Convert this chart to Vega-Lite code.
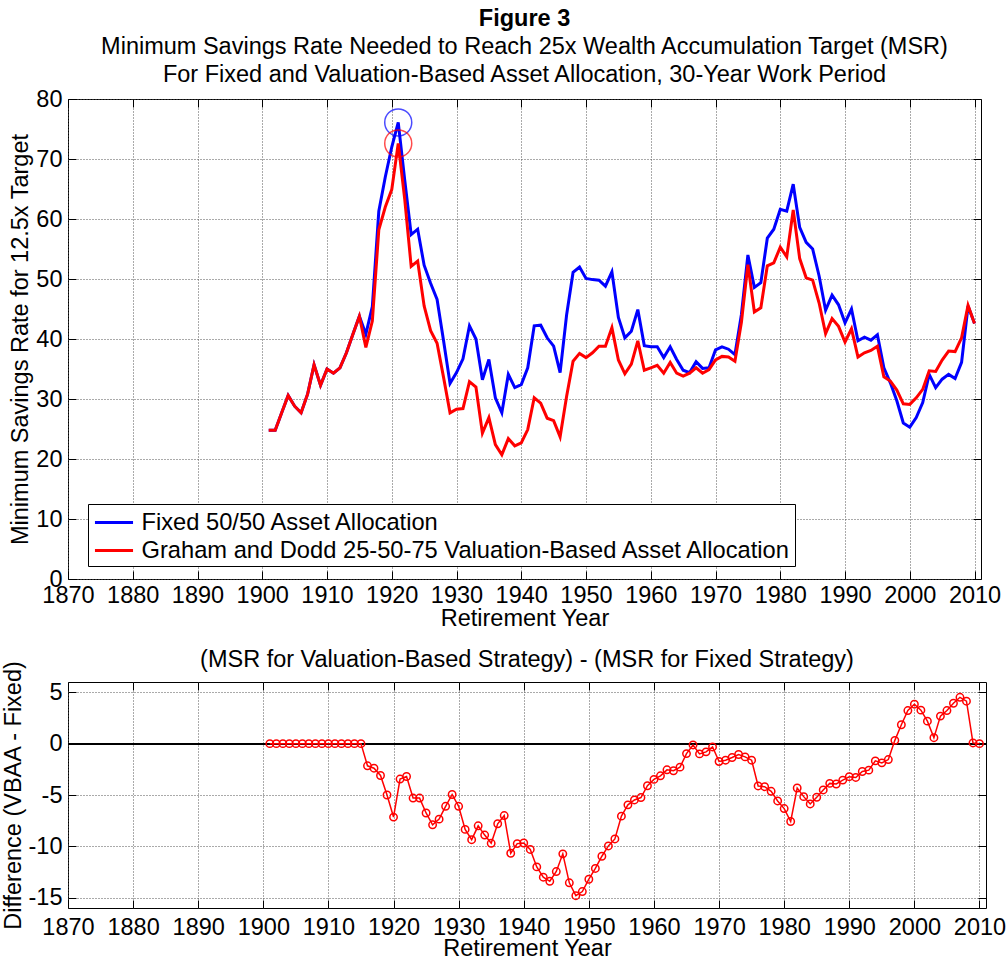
{
  "$schema": "https://vega.github.io/schema/vega-lite/v6.json",
  "background": "white",
  "padding": {"left": 0, "top": 6, "right": 10, "bottom": 0},
  "spacing": 16,
  "config": {
    "font": "Liberation Sans",
    "view": {"stroke": "#000", "strokeWidth": 1},
    "axis": {
      "labelFont": "Liberation Sans", "titleFont": "Liberation Sans",
      "labelFontSize": 23.5, "titleFontSize": 23.5, "titleFontWeight": "normal",
      "labelColor": "#000", "titleColor": "#000",
      "domain": false, "tickColor": "#000", "tickSize": -8, "tickWidth": 1,
      "gridColor": "#555", "gridDash": [1, 2], "gridOpacity": 1, "gridWidth": 1,
      "labelOverlap": false, "labelFlush": false
    }
  },
  "datasets": {
    "msr": [
      {"year":1901,"series":"fixed","msr":24.8},{"year":1902,"series":"fixed","msr":24.8},{"year":1903,"series":"fixed","msr":27.7},{"year":1904,"series":"fixed","msr":30.6},{"year":1905,"series":"fixed","msr":28.8},{"year":1906,"series":"fixed","msr":27.7},{"year":1907,"series":"fixed","msr":30.8},{"year":1908,"series":"fixed","msr":35.7},{"year":1909,"series":"fixed","msr":32.3},{"year":1910,"series":"fixed","msr":35.0},
      {"year":1911,"series":"fixed","msr":34.3},{"year":1912,"series":"fixed","msr":35.2},{"year":1913,"series":"fixed","msr":37.7},{"year":1914,"series":"fixed","msr":40.8},{"year":1915,"series":"fixed","msr":43.8},{"year":1916,"series":"fixed","msr":40.8},{"year":1917,"series":"fixed","msr":45.4},{"year":1918,"series":"fixed","msr":61.3},{"year":1919,"series":"fixed","msr":67.0},{"year":1920,"series":"fixed","msr":72.0},
      {"year":1921,"series":"fixed","msr":76.1},{"year":1922,"series":"fixed","msr":66.5},{"year":1923,"series":"fixed","msr":57.4},{"year":1924,"series":"fixed","msr":58.3},{"year":1925,"series":"fixed","msr":52.3},{"year":1926,"series":"fixed","msr":49.3},{"year":1927,"series":"fixed","msr":46.6},{"year":1928,"series":"fixed","msr":39.7},{"year":1929,"series":"fixed","msr":32.6},{"year":1930,"series":"fixed","msr":34.4},
      {"year":1931,"series":"fixed","msr":36.7},{"year":1932,"series":"fixed","msr":42.2},{"year":1933,"series":"fixed","msr":40.0},{"year":1934,"series":"fixed","msr":33.2},{"year":1935,"series":"fixed","msr":36.6},{"year":1936,"series":"fixed","msr":30.2},{"year":1937,"series":"fixed","msr":27.7},{"year":1938,"series":"fixed","msr":34.1},{"year":1939,"series":"fixed","msr":31.9},{"year":1940,"series":"fixed","msr":32.4},
      {"year":1941,"series":"fixed","msr":35.2},{"year":1942,"series":"fixed","msr":42.2},{"year":1943,"series":"fixed","msr":42.3},{"year":1944,"series":"fixed","msr":40.2},{"year":1945,"series":"fixed","msr":38.8},{"year":1946,"series":"fixed","msr":34.4},{"year":1947,"series":"fixed","msr":44.0},{"year":1948,"series":"fixed","msr":51.1},{"year":1949,"series":"fixed","msr":52.0},{"year":1950,"series":"fixed","msr":50.1},
      {"year":1951,"series":"fixed","msr":49.9},{"year":1952,"series":"fixed","msr":49.8},{"year":1953,"series":"fixed","msr":48.8},{"year":1954,"series":"fixed","msr":51.2},{"year":1955,"series":"fixed","msr":43.6},{"year":1956,"series":"fixed","msr":40.2},{"year":1957,"series":"fixed","msr":41.3},{"year":1958,"series":"fixed","msr":44.9},{"year":1959,"series":"fixed","msr":38.9},{"year":1960,"series":"fixed","msr":38.7},
      {"year":1961,"series":"fixed","msr":38.7},{"year":1962,"series":"fixed","msr":36.9},{"year":1963,"series":"fixed","msr":38.7},{"year":1964,"series":"fixed","msr":36.6},{"year":1965,"series":"fixed","msr":34.8},{"year":1966,"series":"fixed","msr":34.4},{"year":1967,"series":"fixed","msr":36.2},{"year":1968,"series":"fixed","msr":35.1},{"year":1969,"series":"fixed","msr":35.2},{"year":1970,"series":"fixed","msr":38.2},
      {"year":1971,"series":"fixed","msr":38.7},{"year":1972,"series":"fixed","msr":38.3},{"year":1973,"series":"fixed","msr":37.4},{"year":1974,"series":"fixed","msr":44.1},{"year":1975,"series":"fixed","msr":54.0},{"year":1976,"series":"fixed","msr":48.6},{"year":1977,"series":"fixed","msr":49.4},{"year":1978,"series":"fixed","msr":56.8},{"year":1979,"series":"fixed","msr":58.3},{"year":1980,"series":"fixed","msr":61.6},
      {"year":1981,"series":"fixed","msr":61.3},{"year":1982,"series":"fixed","msr":65.8},{"year":1983,"series":"fixed","msr":58.6},{"year":1984,"series":"fixed","msr":56.1},{"year":1985,"series":"fixed","msr":55.0},{"year":1986,"series":"fixed","msr":50.5},{"year":1987,"series":"fixed","msr":44.8},{"year":1988,"series":"fixed","msr":47.3},{"year":1989,"series":"fixed","msr":45.7},{"year":1990,"series":"fixed","msr":42.7},
      {"year":1991,"series":"fixed","msr":45.0},{"year":1992,"series":"fixed","msr":39.7},{"year":1993,"series":"fixed","msr":40.3},{"year":1994,"series":"fixed","msr":39.8},{"year":1995,"series":"fixed","msr":40.7},{"year":1996,"series":"fixed","msr":35.2},{"year":1997,"series":"fixed","msr":32.7},{"year":1998,"series":"fixed","msr":29.7},{"year":1999,"series":"fixed","msr":26.0},{"year":2000,"series":"fixed","msr":25.3},
      {"year":2001,"series":"fixed","msr":26.9},{"year":2002,"series":"fixed","msr":29.4},{"year":2003,"series":"fixed","msr":34.1},{"year":2004,"series":"fixed","msr":31.9},{"year":2005,"series":"fixed","msr":33.3},{"year":2006,"series":"fixed","msr":34.1},{"year":2007,"series":"fixed","msr":33.4},{"year":2008,"series":"fixed","msr":36.1},{"year":2009,"series":"fixed","msr":45.5},{"year":2010,"series":"fixed","msr":42.6},
      {"year":1901,"series":"vbaa","msr":24.8},{"year":1902,"series":"vbaa","msr":24.8},{"year":1903,"series":"vbaa","msr":27.7},{"year":1904,"series":"vbaa","msr":30.6},{"year":1905,"series":"vbaa","msr":28.8},{"year":1906,"series":"vbaa","msr":27.7},{"year":1907,"series":"vbaa","msr":30.8},{"year":1908,"series":"vbaa","msr":35.7},{"year":1909,"series":"vbaa","msr":32.3},{"year":1910,"series":"vbaa","msr":35.0},
      {"year":1911,"series":"vbaa","msr":34.3},{"year":1912,"series":"vbaa","msr":35.2},{"year":1913,"series":"vbaa","msr":37.7},{"year":1914,"series":"vbaa","msr":40.8},{"year":1915,"series":"vbaa","msr":43.8},{"year":1916,"series":"vbaa","msr":38.6},{"year":1917,"series":"vbaa","msr":43.0},{"year":1918,"series":"vbaa","msr":58.2},{"year":1919,"series":"vbaa","msr":62.0},{"year":1920,"series":"vbaa","msr":64.9},
      {"year":1921,"series":"vbaa","msr":72.6},{"year":1922,"series":"vbaa","msr":63.3},{"year":1923,"series":"vbaa","msr":52.1},{"year":1924,"series":"vbaa","msr":53.0},{"year":1925,"series":"vbaa","msr":45.5},{"year":1926,"series":"vbaa","msr":41.4},{"year":1927,"series":"vbaa","msr":39.3},{"year":1928,"series":"vbaa","msr":33.6},{"year":1929,"series":"vbaa","msr":27.7},{"year":1930,"series":"vbaa","msr":28.3},
      {"year":1931,"series":"vbaa","msr":28.4},{"year":1932,"series":"vbaa","msr":32.9},{"year":1933,"series":"vbaa","msr":32.0},{"year":1934,"series":"vbaa","msr":24.3},{"year":1935,"series":"vbaa","msr":26.9},{"year":1936,"series":"vbaa","msr":22.4},{"year":1937,"series":"vbaa","msr":20.7},{"year":1938,"series":"vbaa","msr":23.4},{"year":1939,"series":"vbaa","msr":22.2},{"year":1940,"series":"vbaa","msr":22.7},
      {"year":1941,"series":"vbaa","msr":24.9},{"year":1942,"series":"vbaa","msr":30.2},{"year":1943,"series":"vbaa","msr":29.3},{"year":1944,"series":"vbaa","msr":26.8},{"year":1945,"series":"vbaa","msr":26.4},{"year":1946,"series":"vbaa","msr":23.7},{"year":1947,"series":"vbaa","msr":30.4},{"year":1948,"series":"vbaa","msr":36.3},{"year":1949,"series":"vbaa","msr":37.6},{"year":1950,"series":"vbaa","msr":36.9},
      {"year":1951,"series":"vbaa","msr":37.7},{"year":1952,"series":"vbaa","msr":38.8},{"year":1953,"series":"vbaa","msr":38.8},{"year":1954,"series":"vbaa","msr":41.9},{"year":1955,"series":"vbaa","msr":36.5},{"year":1956,"series":"vbaa","msr":34.2},{"year":1957,"series":"vbaa","msr":35.8},{"year":1958,"series":"vbaa","msr":39.7},{"year":1959,"series":"vbaa","msr":34.8},{"year":1960,"series":"vbaa","msr":35.2},
      {"year":1961,"series":"vbaa","msr":35.6},{"year":1962,"series":"vbaa","msr":34.3},{"year":1963,"series":"vbaa","msr":36.1},{"year":1964,"series":"vbaa","msr":34.3},{"year":1965,"series":"vbaa","msr":33.8},{"year":1966,"series":"vbaa","msr":34.3},{"year":1967,"series":"vbaa","msr":35.2},{"year":1968,"series":"vbaa","msr":34.3},{"year":1969,"series":"vbaa","msr":34.9},{"year":1970,"series":"vbaa","msr":36.5},
      {"year":1971,"series":"vbaa","msr":37.1},{"year":1972,"series":"vbaa","msr":37.0},{"year":1973,"series":"vbaa","msr":36.3},{"year":1974,"series":"vbaa","msr":42.8},{"year":1975,"series":"vbaa","msr":52.4},{"year":1976,"series":"vbaa","msr":44.5},{"year":1977,"series":"vbaa","msr":45.2},{"year":1978,"series":"vbaa","msr":52.2},{"year":1979,"series":"vbaa","msr":52.7},{"year":1980,"series":"vbaa","msr":55.3},
      {"year":1981,"series":"vbaa","msr":53.7},{"year":1982,"series":"vbaa","msr":61.5},{"year":1983,"series":"vbaa","msr":53.4},{"year":1984,"series":"vbaa","msr":50.2},{"year":1985,"series":"vbaa","msr":49.8},{"year":1986,"series":"vbaa","msr":46.0},{"year":1987,"series":"vbaa","msr":40.9},{"year":1988,"series":"vbaa","msr":43.4},{"year":1989,"series":"vbaa","msr":42.1},{"year":1990,"series":"vbaa","msr":39.5},
      {"year":1991,"series":"vbaa","msr":41.7},{"year":1992,"series":"vbaa","msr":37.0},{"year":1993,"series":"vbaa","msr":37.7},{"year":1994,"series":"vbaa","msr":38.1},{"year":1995,"series":"vbaa","msr":38.8},{"year":1996,"series":"vbaa","msr":33.7},{"year":1997,"series":"vbaa","msr":33.0},{"year":1998,"series":"vbaa","msr":31.5},{"year":1999,"series":"vbaa","msr":29.2},{"year":2000,"series":"vbaa","msr":29.1},
      {"year":2001,"series":"vbaa","msr":30.2},{"year":2002,"series":"vbaa","msr":31.6},{"year":2003,"series":"vbaa","msr":34.7},{"year":2004,"series":"vbaa","msr":34.6},{"year":2005,"series":"vbaa","msr":36.5},{"year":2006,"series":"vbaa","msr":38.0},{"year":2007,"series":"vbaa","msr":37.9},{"year":2008,"series":"vbaa","msr":40.2},{"year":2009,"series":"vbaa","msr":45.6},{"year":2010,"series":"vbaa","msr":42.6}
    ],
    "diff": [
      {"year":1901,"diff":0},{"year":1902,"diff":0},{"year":1903,"diff":0},{"year":1904,"diff":0},{"year":1905,"diff":0},{"year":1906,"diff":0},{"year":1907,"diff":0},{"year":1908,"diff":0},{"year":1909,"diff":0},{"year":1910,"diff":0},
      {"year":1911,"diff":0},{"year":1912,"diff":0},{"year":1913,"diff":0},{"year":1914,"diff":0},{"year":1915,"diff":0},{"year":1916,"diff":-2.16},{"year":1917,"diff":-2.39},{"year":1918,"diff":-3.1},{"year":1919,"diff":-5.0},{"year":1920,"diff":-7.15},
      {"year":1921,"diff":-3.45},{"year":1922,"diff":-3.2},{"year":1923,"diff":-5.3},{"year":1924,"diff":-5.3},{"year":1925,"diff":-6.75},{"year":1926,"diff":-7.9},{"year":1927,"diff":-7.35},{"year":1928,"diff":-6.1},{"year":1929,"diff":-4.95},{"year":1930,"diff":-6.1},
      {"year":1931,"diff":-8.35},{"year":1932,"diff":-9.35},{"year":1933,"diff":-8.0},{"year":1934,"diff":-8.9},{"year":1935,"diff":-9.7},{"year":1936,"diff":-7.8},{"year":1937,"diff":-7.0},{"year":1938,"diff":-10.67},{"year":1939,"diff":-9.73},{"year":1940,"diff":-9.67},
      {"year":1941,"diff":-10.3},{"year":1942,"diff":-12.0},{"year":1943,"diff":-13.0},{"year":1944,"diff":-13.4},{"year":1945,"diff":-12.45},{"year":1946,"diff":-10.73},{"year":1947,"diff":-13.55},{"year":1948,"diff":-14.8},{"year":1949,"diff":-14.4},{"year":1950,"diff":-13.2},
      {"year":1951,"diff":-12.15},{"year":1952,"diff":-10.96},{"year":1953,"diff":-9.96},{"year":1954,"diff":-9.28},{"year":1955,"diff":-7.06},{"year":1956,"diff":-5.96},{"year":1957,"diff":-5.48},{"year":1958,"diff":-5.25},{"year":1959,"diff":-4.1},{"year":1960,"diff":-3.48},
      {"year":1961,"diff":-3.13},{"year":1962,"diff":-2.55},{"year":1963,"diff":-2.64},{"year":1964,"diff":-2.29},{"year":1965,"diff":-0.97},{"year":1966,"diff":-0.13},{"year":1967,"diff":-1.0},{"year":1968,"diff":-0.8},{"year":1969,"diff":-0.32},{"year":1970,"diff":-1.74},
      {"year":1971,"diff":-1.61},{"year":1972,"diff":-1.35},{"year":1973,"diff":-1.06},{"year":1974,"diff":-1.29},{"year":1975,"diff":-1.61},{"year":1976,"diff":-4.12},{"year":1977,"diff":-4.19},{"year":1978,"diff":-4.64},{"year":1979,"diff":-5.58},{"year":1980,"diff":-6.32},
      {"year":1981,"diff":-7.58},{"year":1982,"diff":-4.32},{"year":1983,"diff":-5.16},{"year":1984,"diff":-5.87},{"year":1985,"diff":-5.22},{"year":1986,"diff":-4.51},{"year":1987,"diff":-3.87},{"year":1988,"diff":-3.93},{"year":1989,"diff":-3.55},{"year":1990,"diff":-3.22},
      {"year":1991,"diff":-3.29},{"year":1992,"diff":-2.71},{"year":1993,"diff":-2.58},{"year":1994,"diff":-1.68},{"year":1995,"diff":-1.87},{"year":1996,"diff":-1.55},{"year":1997,"diff":0.32},{"year":1998,"diff":1.84},{"year":1999,"diff":3.22},{"year":2000,"diff":3.84},
      {"year":2001,"diff":3.26},{"year":2002,"diff":2.19},{"year":2003,"diff":0.58},{"year":2004,"diff":2.68},{"year":2005,"diff":3.22},{"year":2006,"diff":3.93},{"year":2007,"diff":4.51},{"year":2008,"diff":4.13},{"year":2009,"diff":0.07},{"year":2010,"diff":0.0}
    ]
  },
  "vconcat": [
    {
      "width": 913,
      "height": 480,
      "title": {
        "text": "Figure 3",
        "subtitle": ["Minimum Savings Rate Needed to Reach 25x Wealth Accumulation Target (MSR)", "For Fixed and Valuation-Based Asset Allocation, 30-Year Work Period"],
        "font": "Liberation Sans", "subtitleFont": "Liberation Sans",
        "fontSize": 23.5, "fontWeight": "bold", "color": "#000",
        "subtitleFontSize": 23.5, "subtitleFontWeight": "normal", "subtitleColor": "#000",
        "subtitlePadding": 5, "subtitleLineHeight": 27.5,
        "anchor": "middle", "frame": "group", "offset": 1
      },
      "data": {"name": "msr"},
      "layer": [
        {
          "mark": {"type": "line", "strokeWidth": 3},
          "encoding": {
            "x": {"field": "year", "type": "quantitative",
              "scale": {"domain": [1870, 2011], "nice": false, "zero": false},
              "axis": {"title": "Retirement Year", "values": [1870,1880,1890,1900,1910,1920,1930,1940,1950,1960,1970,1980,1990,2000,2010], "format": "d", "grid": true, "labelPadding": 12, "titlePadding": 0}},
            "y": {"field": "msr", "type": "quantitative",
              "scale": {"domain": [0, 80], "nice": false, "zero": false},
              "axis": {"title": "Minimum Savings Rate for 12.5x Target", "values": [0,10,20,30,40,50,60,70,80], "grid": true, "labelPadding": 14, "titlePadding": 3}},
            "color": {"field": "series", "type": "nominal",
              "scale": {"domain": ["fixed", "vbaa"], "range": ["#0000ff", "#ff0000"]},
              "legend": {"orient": "none", "legendX": 20, "legendY": 405, "title": null,
                "labelExpr": "datum.value == 'fixed' ? 'Fixed 50/50 Asset Allocation ' : 'Graham and Dodd 25-50-75 Valuation-Based Asset Allocation '",
                "symbolType": "M-1.36,0H1.36", "symbolSize": 784, "symbolStrokeWidth": 3,
                "labelFont": "Liberation Sans", "labelFontSize": 23.7, "labelColor": "#000", "labelLimit": 0, "labelOffset": 12,
                "symbolOffset": 7.5,
                "fillColor": "#fff", "strokeColor": "#000", "padding": 3, "rowPadding": -3}}
          }
        },
        {
          "transform": [{"filter": "datum.year == 1921"}],
          "mark": {"type": "point", "shape": "circle", "filled": false, "size": 730, "strokeWidth": 1.5},
          "encoding": {
            "x": {"field": "year", "type": "quantitative",
              "axis": {"orient": "top", "labels": false, "title": null, "grid": false, "values": [1870,1880,1890,1900,1910,1920,1930,1940,1950,1960,1970,1980,1990,2000,2010]}},
            "y": {"field": "msr", "type": "quantitative",
              "axis": {"orient": "right", "labels": false, "title": null, "grid": false, "values": [0,10,20,30,40,50,60,70,80]}},
            "stroke": {"field": "series", "type": "nominal",
              "scale": {"domain": ["fixed", "vbaa"], "range": ["#0000ff", "#ff0000"]}, "legend": null}
          }
        }
      ],
      "resolve": {"axis": {"x": "independent", "y": "independent"}}
    },
    {
      "width": 918,
      "height": 226,
      "title": {
        "text": "(MSR for Valuation-Based Strategy) - (MSR for Fixed Strategy)",
        "font": "Liberation Sans", "fontSize": 23.5, "fontWeight": "normal", "color": "#000",
        "anchor": "middle", "frame": "group", "offset": -11
      },
      "data": {"name": "diff"},
      "layer": [
        {
          "mark": {"type": "rule", "color": "#000", "strokeWidth": 1},
          "encoding": {"y": {"datum": 0, "type": "quantitative", "axis": null}}
        },
        {
          "mark": {"type": "line", "color": "#ff0000", "strokeWidth": 1.5},
          "encoding": {
            "x": {"field": "year", "type": "quantitative",
              "scale": {"domain": [1870, 2011], "nice": false, "zero": false},
              "axis": {"title": "Retirement Year", "values": [1870,1880,1890,1900,1910,1920,1930,1940,1950,1960,1970,1980,1990,2000,2010], "format": "d", "grid": true, "labelPadding": 15, "titlePadding": -2}},
            "y": {"field": "diff", "type": "quantitative",
              "scale": {"domain": [-16, 6], "nice": false, "zero": false},
              "axis": {"title": "Difference (VBAA - Fixed)", "values": [-15,-10,-5,0,5], "grid": true, "labelPadding": 14, "titlePadding": 3,
                "labelExpr": "replace(datum.label, '\u2212', '-')"}}
          }
        },
        {
          "mark": {"type": "point", "shape": "circle", "filled": false, "color": "#ff0000", "size": 55, "strokeWidth": 1.5, "opacity": 1},
          "encoding": {
            "x": {"field": "year", "type": "quantitative",
              "axis": {"orient": "top", "labels": false, "title": null, "grid": false, "values": [1870,1880,1890,1900,1910,1920,1930,1940,1950,1960,1970,1980,1990,2000,2010]}},
            "y": {"field": "diff", "type": "quantitative",
              "axis": {"orient": "right", "labels": false, "title": null, "grid": false, "values": [-15,-10,-5,0,5]}}
          }
        }
      ],
      "resolve": {"axis": {"x": "independent", "y": "independent"}}
    }
  ]
}
